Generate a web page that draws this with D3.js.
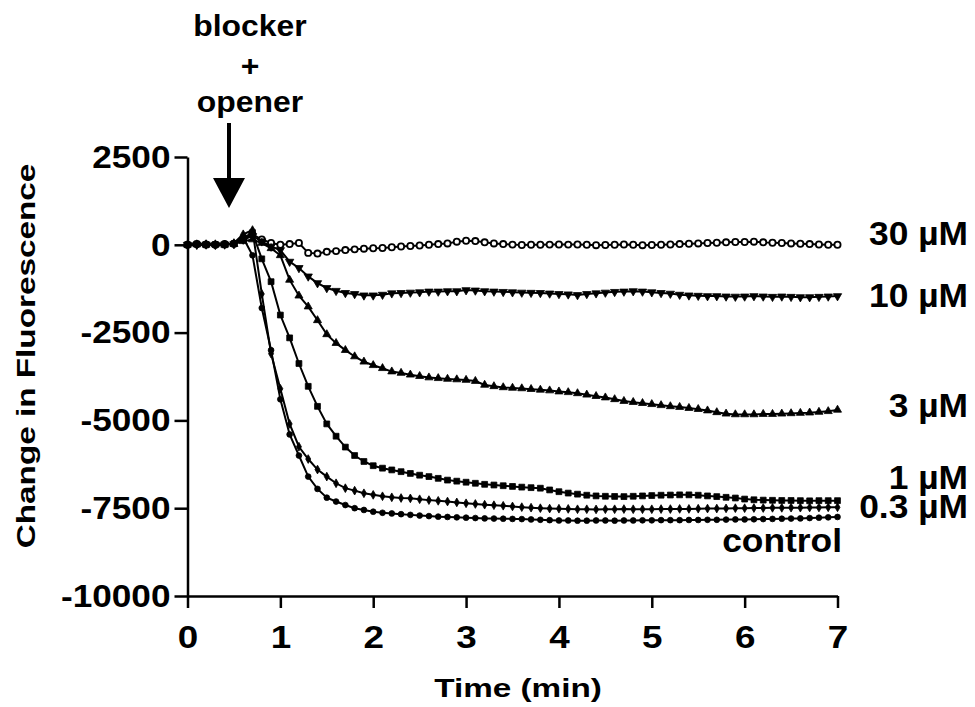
<!DOCTYPE html>
<html>
<head>
<meta charset="utf-8">
<script src="https://cdn.jsdelivr.net/npm/d3@7"></script>
<style>
body { margin: 0; background: #fff; }
text { font-family: "Liberation Sans", Arial, sans-serif; font-weight: bold; fill: #000; }
</style>
</head>
<body>
<svg id="chart" width="975" height="707"></svg>
<script>
// time points (min)
const times = [0,0.1,0.2,0.3,0.4,0.5,0.6,0.7,0.8,0.9,1.0,1.1,1.2,1.3,1.4,1.5,1.6,1.7,1.8,1.9,
  2.0,2.1,2.2,2.3,2.4,2.5,2.6,2.7,2.8,2.9,3.0,3.1,3.2,3.3,3.4,3.5,3.6,3.7,3.8,3.9,
  4.0,4.1,4.2,4.3,4.4,4.5,4.6,4.7,4.8,4.9,5.0,5.1,5.2,5.3,5.4,5.5,5.6,5.7,5.8,5.9,
  6.0,6.1,6.2,6.3,6.4,6.5,6.6,6.7,6.8,6.9,7.0];

const v30 = [0,20,10,0,20,30,
  150,300,150,50,0,20,50,
  -230,-250,-200,-180,-150,-130,-110,-100,
  -90,-70,-50,-35,-20,0,20,40,90,115,
  105,70,40,20,5,-5,0,0,5,10,
  5,10,0,-10,-5,0,10,0,-10,-5,
  0,10,20,30,40,50,60,70,80,80,
  90,70,60,50,40,30,20,10,0,0];

const v10 = [0,0,10,0,10,20,
  150,250,100,-50,-150,-480,-660,
  -900,-1090,-1230,-1310,-1370,-1400,-1440,-1440,
  -1420,-1380,-1370,-1360,-1350,-1330,-1330,-1320,-1320,-1290,
  -1300,-1320,-1330,-1340,-1350,-1360,-1365,-1370,-1385,-1400,
  -1410,-1430,-1400,-1380,-1360,-1340,-1330,-1320,-1330,-1350,
  -1370,-1390,-1420,-1440,-1450,-1460,-1460,-1470,-1475,-1470,
  -1460,-1470,-1480,-1470,-1480,-1490,-1490,-1480,-1470,-1460];

const v3 = [0,10,0,10,0,20,
  100,150,50,-100,-300,-1000,-1450,
  -1760,-2150,-2550,-2800,-3000,-3180,-3330,-3430,
  -3515,-3610,-3650,-3700,-3740,-3780,-3800,-3820,-3835,-3850,
  -3880,-3990,-4030,-4060,-4075,-4090,-4110,-4130,-4150,-4180,
  -4200,-4230,-4270,-4310,-4350,-4400,-4450,-4480,-4510,-4540,
  -4570,-4600,-4620,-4650,-4680,-4720,-4770,-4810,-4830,-4830,
  -4830,-4820,-4820,-4810,-4800,-4790,-4780,-4760,-4740,-4700];

const v1 = [0,20,0,10,0,30,
  200,345,-400,-1050,-2000,-2650,-3380,
  -4030,-4600,-5100,-5450,-5760,-6000,-6170,-6290,
  -6360,-6410,-6460,-6510,-6560,-6600,-6650,-6700,-6730,-6760,
  -6790,-6820,-6840,-6860,-6880,-6900,-6915,-6930,-6980,-7030,
  -7070,-7100,-7130,-7150,-7160,-7165,-7170,-7160,-7150,-7140,
  -7130,-7125,-7120,-7120,-7130,-7150,-7170,-7190,-7210,-7240,
  -7260,-7270,-7275,-7280,-7280,-7285,-7290,-7285,-7285,-7285];

const v03 = [0,10,20,0,10,50,
  300,420,-1400,-3100,-4100,-5100,-5750,
  -6100,-6400,-6600,-6790,-6930,-7000,-7075,-7120,
  -7160,-7190,-7210,-7220,-7245,-7270,-7290,-7310,-7335,-7360,
  -7380,-7400,-7415,-7430,-7450,-7470,-7485,-7500,-7510,-7515,
  -7520,-7530,-7530,-7535,-7530,-7530,-7525,-7530,-7530,-7530,
  -7525,-7525,-7520,-7520,-7515,-7510,-7510,-7505,-7500,-7500,
  -7495,-7495,-7490,-7490,-7485,-7485,-7480,-7480,-7475,-7475];

const vControl = [0,0,10,20,0,40,
  200,-300,-1800,-3000,-4400,-5400,-6000,
  -6600,-6950,-7200,-7310,-7410,-7500,-7550,-7600,
  -7630,-7650,-7670,-7690,-7710,-7725,-7740,-7750,-7760,-7770,
  -7780,-7790,-7795,-7800,-7805,-7810,-7820,-7830,-7840,-7850,
  -7850,-7855,-7855,-7850,-7850,-7855,-7850,-7850,-7845,-7845,
  -7840,-7840,-7840,-7835,-7835,-7830,-7830,-7825,-7820,-7820,
  -7815,-7810,-7805,-7800,-7795,-7790,-7780,-7770,-7760,-7750];

const seriesNames = ["30 µM", "10 µM", "3 µM", "1 µM", "0.3 µM", "control"];
const xTicks = [0, 1, 2, 3, 4, 5, 6, 7];
const yTicks = [2500, 0, -2500, -5000, -7500, -10000];

const svg = d3.select("#chart");

const x = d3.scaleLinear().domain([0, 7]).range([187.5, 837.5]);
const y = d3.scaleLinear().domain([-10000, 2500]).range([596, 157]);

// widen text a bit like the original figure
function stretch(sel, k) {
  sel.each(function() {
    const w = this.getComputedTextLength();
    this.setAttribute("textLength", w * k);
    this.setAttribute("lengthAdjust", "spacingAndGlyphs");
  });
}

const plain = function(d) { return String(d); };

// axes
const yAxis = svg.append("g")
  .attr("transform", "translate(" + x(0) + ",0)")
  .call(d3.axisLeft(y).tickValues(yTicks).tickFormat(plain).tickSize(13).tickSizeOuter(0).tickPadding(4));
const xAxis = svg.append("g")
  .attr("transform", "translate(0," + y(-10000) + ")")
  .call(d3.axisBottom(x).tickValues(xTicks).tickFormat(plain).tickSize(12).tickSizeOuter(0).tickPadding(17));

[yAxis, xAxis].forEach(function(g) {
  g.select(".domain").attr("stroke", "#000").attr("stroke-width", 2.5);
  g.selectAll(".tick line").attr("stroke", "#000").attr("stroke-width", 2.5);
  g.selectAll(".tick text").attr("font-size", 32).attr("font-family", null).attr("fill", "#000");
});
yAxis.selectAll(".tick text").call(stretch, 1.1);
xAxis.selectAll(".tick text").call(stretch, 1.15);

// axis titles
svg.append("text")
  .attr("x", 518).attr("y", 697)
  .attr("text-anchor", "middle")
  .attr("font-size", 26)
  .text("Time (min)")
  .call(stretch, 1.28);

svg.append("text")
  .attr("transform", "translate(35,356) rotate(-90)")
  .attr("text-anchor", "middle")
  .attr("font-size", 26)
  .text("Change in Fluorescence")
  .call(stretch, 1.28);

// series
const series = [
  { name: seriesNames[0], values: v30, symbol: d3.symbolCircle, size: 30, open: true, rot: 0 },
  { name: seriesNames[1], values: v10, symbol: d3.symbolTriangle, size: 30, open: false, rot: 180 },
  { name: seriesNames[2], values: v3, symbol: d3.symbolTriangle, size: 28, open: false, rot: 0 },
  { name: seriesNames[3], values: v1, symbol: d3.symbolSquare, size: 34, open: false, rot: 0 },
  { name: seriesNames[4], values: v03, symbol: d3.symbolDiamond, size: 22, open: false, rot: 0 },
  { name: seriesNames[5], values: vControl, symbol: d3.symbolCircle, size: 26, open: false, rot: 0 }
];

const line = d3.line()
  .x(function(d) { return x(d[0]); })
  .y(function(d) { return y(d[1]); });

series.forEach(function(s) {
  const pts = times.map(function(t, i) { return [t, s.values[i]]; });
  const g = svg.append("g");
  g.append("path")
    .datum(pts)
    .attr("d", line)
    .attr("fill", "none")
    .attr("stroke", "#000")
    .attr("stroke-width", 2);
  g.selectAll("path.pt")
    .data(pts)
    .enter().append("path")
    .attr("class", "pt")
    .attr("d", d3.symbol().type(s.symbol).size(s.size))
    .attr("transform", function(d) { return "translate(" + x(d[0]) + "," + y(d[1]) + ") rotate(" + s.rot + ")"; })
    .attr("fill", s.open ? "#fff" : "#000")
    .attr("stroke", "#000")
    .attr("stroke-width", s.open ? 1.8 : 0.8);
});

// series labels at the right
const labelPos = [
  { x: 968, y: 245 },
  { x: 968, y: 307 },
  { x: 968, y: 417 },
  { x: 968, y: 489 },
  { x: 968, y: 518 },
  { x: 842, y: 552 }
];
svg.selectAll("text.lab")
  .data(seriesNames)
  .enter().append("text")
  .attr("class", "lab")
  .attr("x", function(d, i) { return labelPos[i].x; })
  .attr("y", function(d, i) { return labelPos[i].y; })
  .attr("text-anchor", "end")
  .attr("font-size", 34)
  .text(function(d) { return d; })
  .call(stretch, 1.04);

// blocker + opener annotation
const noteLines = ["blocker", "+", "opener"];
const noteY = [36, 76, 112];
svg.selectAll("text.note")
  .data(noteLines)
  .enter().append("text")
  .attr("class", "note")
  .attr("x", 250)
  .attr("y", function(d, i) { return noteY[i]; })
  .attr("text-anchor", "middle")
  .attr("font-size", 29)
  .text(function(d) { return d; })
  .call(stretch, 1.1);

svg.append("line")
  .attr("x1", 229).attr("x2", 229)
  .attr("y1", 123).attr("y2", 182)
  .attr("stroke", "#000").attr("stroke-width", 4);
svg.append("path")
  .attr("d", "M213,178 L245,178 L229,208 Z")
  .attr("fill", "#000");
</script>
</body>
</html>
